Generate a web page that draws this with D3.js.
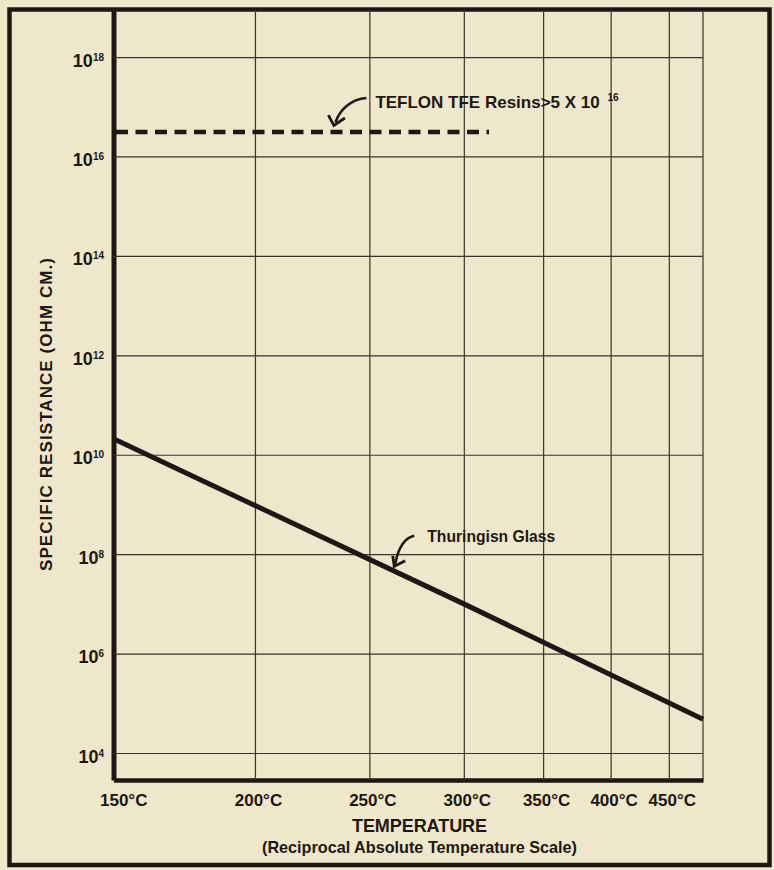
<!DOCTYPE html>
<html><head><meta charset="utf-8">
<script src="https://cdn.jsdelivr.net/npm/d3@7"></script>
<style>
html,body{margin:0;padding:0;background:#efe7cb;}
svg{display:block;}
text{font-family:"Liberation Sans",Arial,sans-serif;font-weight:bold;fill:#1d1813;}
</style></head><body>
<svg id="chart" width="774" height="870"></svg>
<script>
// ---- data ----
const tempTicks = [150, 200, 250, 300, 350, 400, 450];      // °C, reciprocal absolute scale
const tempDomain = [150, 483];                               // °C at left / right edge of plot
const resTicks = [1e4, 1e6, 1e8, 1e10, 1e12, 1e14, 1e16, 1e18];
const resDomain = [2864, 8.83e18];
const glassTemps = [150, 300, 483];
const glassValues = [2.1e10, 1.0e7, 4.8e4];
const teflonTemps = [150, 315];
const teflonValues = [3.1e16, 3.1e16];
const yTitle = "SPECIFIC RESISTANCE (OHM CM.)";
const xTitle = "TEMPERATURE";
const xSubtitle = "(Reciprocal Absolute Temperature Scale)";
const teflonLabel = "TEFLON TFE Resins>5 X 10";
const teflonSup = "16";
const glassLabel = "Thuringisn Glass";

// ---- setup ----
const ink = "#1d1813";
const svg = d3.select("#chart");
const K = 273.15;
const recip = c => 1 / (c + K);
const pLeft = 113.5, pRight = 703, pTop = 10, pBottom = 780;
const x = d3.scaleLinear().domain(tempDomain.map(recip)).range([pLeft, pRight]);
const y = d3.scaleLog().domain(resDomain).range([pBottom, pTop]);
const xc = c => x(recip(c));

svg.append("rect").attr("width", 774).attr("height", 870).attr("fill", "#efe7cb");

// outer frame
svg.append("rect").attr("x", 9.5).attr("y", 9.5).attr("width", 760).attr("height", 855.5)
  .attr("fill", "none").attr("stroke", ink).attr("stroke-width", 4.5);

// right plot edge
svg.append("line").attr("x1", pRight).attr("x2", pRight).attr("y1", pTop).attr("y2", pBottom)
  .attr("stroke", "#3a342c").attr("stroke-width", 1.2);

// x axis
const gx = svg.append("g").attr("transform", `translate(0,${pBottom})`)
  .call(d3.axisBottom(x).tickValues(tempTicks.map(recip))
    .tickSizeInner(-(pBottom - pTop)).tickSizeOuter(0)
    .tickFormat(v => Math.round(1 / v - K) + "°C"));
gx.select(".domain").attr("stroke", ink).attr("stroke-width", 4.5);
gx.selectAll(".tick line").attr("stroke", "#3a342c").attr("stroke-width", 1.2);
gx.selectAll(".tick text")
  .attr("fill", ink).attr("font-size", 17).attr("font-family", null)
  .attr("dy", null).attr("y", 26)
  .each(function (v, i) {
    const t = d3.select(this);
    if (i === 0) { t.attr("text-anchor", "start").attr("x", -14); }
    else { t.attr("text-anchor", "middle").attr("x", 3); }
  });

// y axis
const gy = svg.append("g").attr("transform", `translate(${pLeft},0)`)
  .call(d3.axisLeft(y).tickValues(resTicks)
    .tickSizeInner(-(pRight - pLeft)).tickSizeOuter(0));
gy.select(".domain").attr("stroke", ink).attr("stroke-width", 5);
gy.selectAll(".tick line").attr("stroke", "#3a342c").attr("stroke-width", 1.2);
gy.selectAll(".tick text")
  .attr("fill", ink).attr("font-size", 18).attr("font-family", null)
  .attr("dy", null).attr("y", 9).attr("x", -9.5).attr("text-anchor", "end")
  .each(function (v) {
    const t = d3.select(this);
    t.text(null);
    t.append("tspan").text("10");
    t.append("tspan").attr("font-size", 10).attr("dy", -6).text(String(Math.round(Math.log10(v))));
  });

// series
const line = d3.line().x(d => xc(d[0])).y(d => y(d[1]));
svg.append("path").datum(glassTemps.map((t, i) => [t, glassValues[i]]))
  .attr("d", line).attr("fill", "none").attr("stroke", ink).attr("stroke-width", 5);
svg.append("path").datum(teflonTemps.map((t, i) => [t, teflonValues[i]]))
  .attr("d", line).attr("fill", "none").attr("stroke", ink).attr("stroke-width", 4.5)
  .attr("stroke-dasharray", "12,7.5").attr("stroke-dashoffset", -2.5);

// annotations
function arrow(tx, ty, pathRel, barbRel) {
  const p = pathRel.map(([a, b]) => [tx + a, ty + b]);
  svg.append("path")
    .attr("d", `M${p[0]}C${p[1]} ${p[2]} ${p[3]}`)
    .attr("fill", "none").attr("stroke", ink).attr("stroke-width", 2.6);
  const b = barbRel.map(([a, c]) => [tx + a, ty + c]);
  svg.append("path").attr("d", `M${b[0]}L${b[1]}L${b[2]}`)
    .attr("fill", "none").attr("stroke", ink).attr("stroke-width", 2.8)
    .attr("stroke-linejoin", "miter");
}
// Teflon
const tTipX = xc(233.4), tTipY = y(teflonValues[0]) - 6.5;
arrow(tTipX, tTipY, [[32.5, -27.5], [18.5, -26.5], [6.5, -17.5], [1.5, -3]], [[-5.5, -10.5], [0, 0], [11, -7.5]]);
svg.append("text").attr("x", tTipX + 41.5).attr("y", tTipY - 17.5).attr("font-size", 17)
  .text(teflonLabel);
svg.append("text").attr("x", tTipX + 273.5).attr("y", tTipY - 24.5).attr("font-size", 10)
  .text(teflonSup);
// Glass
const gTipX = xc(262.3);
const gTipY = y(glassValues[0]) + (gTipX - xc(glassTemps[0])) / (xc(glassTemps[2]) - xc(glassTemps[0])) * (y(glassValues[2]) - y(glassValues[0])) - 6;
arrow(gTipX, gTipY, [[20, -30.5], [11, -28.5], [4, -18.5], [1, -2.5]], [[-1.5, -10.5], [0, 0], [11, -5.5]]);
svg.append("text").attr("x", gTipX + 33).attr("y", gTipY - 24.5).attr("font-size", 17)
  .attr("textLength", 128).attr("lengthAdjust", "spacingAndGlyphs").text(glassLabel);

// axis titles
svg.append("text").attr("x", 419.5).attr("y", 832).attr("text-anchor", "middle")
  .attr("font-size", 18).attr("textLength", 135).attr("lengthAdjust", "spacing").text(xTitle);
svg.append("text").attr("x", 419.5).attr("y", 853).attr("text-anchor", "middle")
  .attr("font-size", 17).attr("textLength", 315).attr("lengthAdjust", "spacingAndGlyphs").text(xSubtitle);
svg.append("text").attr("transform", "translate(52,414.5) rotate(-90)").attr("text-anchor", "middle")
  .attr("font-size", 17).attr("textLength", 313).attr("lengthAdjust", "spacing").text(yTitle);
</script>
</body></html>
